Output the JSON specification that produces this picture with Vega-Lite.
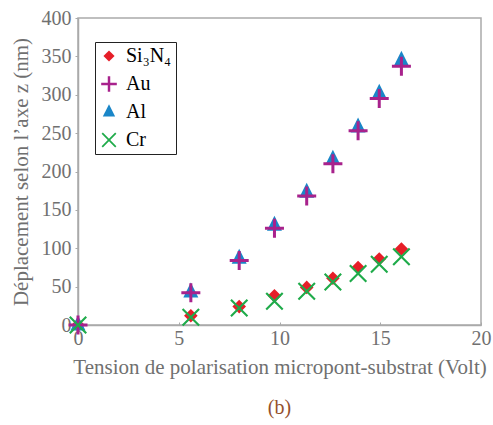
{
  "$schema": "https://vega.github.io/schema/vega-lite/v6.json",
  "width": 403,
  "height": 307,
  "autosize": "none",
  "padding": {"left": 78, "top": 18, "right": 12, "bottom": 100},
  "background": "white",
  "config": {
    "font": "Liberation Serif",
    "view": {"stroke": "#aaaaaa", "strokeWidth": 1.5}
  },
  "title": {
    "text": "(b)",
    "orient": "bottom",
    "anchor": "middle",
    "color": "#94502c",
    "font": "Liberation Serif",
    "fontSize": 20,
    "fontWeight": "normal",
    "offset": 21
  },
  "data": {
    "values": [
      {"mat": "Si₃N₄", "v": 0, "d": 0},
      {"mat": "Si₃N₄", "v": 5.6, "d": 12},
      {"mat": "Si₃N₄", "v": 8.0, "d": 24},
      {"mat": "Si₃N₄", "v": 9.75, "d": 38},
      {"mat": "Si₃N₄", "v": 11.35, "d": 49},
      {"mat": "Si₃N₄", "v": 12.65, "d": 61},
      {"mat": "Si₃N₄", "v": 13.9, "d": 75},
      {"mat": "Si₃N₄", "v": 14.95, "d": 86},
      {"mat": "Si₃N₄", "v": 16.05, "d": 99},
      {"mat": "Al", "v": 0, "d": 0},
      {"mat": "Al", "v": 5.6, "d": 43},
      {"mat": "Al", "v": 8.0, "d": 87},
      {"mat": "Al", "v": 9.75, "d": 130},
      {"mat": "Al", "v": 11.35, "d": 173},
      {"mat": "Al", "v": 12.65, "d": 216},
      {"mat": "Al", "v": 13.9, "d": 258},
      {"mat": "Al", "v": 14.95, "d": 302},
      {"mat": "Al", "v": 16.05, "d": 345},
      {"mat": "Au", "v": 0, "d": 0},
      {"mat": "Au", "v": 5.6, "d": 42},
      {"mat": "Au", "v": 8.0, "d": 84},
      {"mat": "Au", "v": 9.75, "d": 126},
      {"mat": "Au", "v": 11.35, "d": 168},
      {"mat": "Au", "v": 12.65, "d": 210},
      {"mat": "Au", "v": 13.9, "d": 253},
      {"mat": "Au", "v": 14.95, "d": 295},
      {"mat": "Au", "v": 16.05, "d": 337},
      {"mat": "Cr", "v": 0, "d": 0},
      {"mat": "Cr", "v": 5.6, "d": 10},
      {"mat": "Cr", "v": 8.0, "d": 22},
      {"mat": "Cr", "v": 9.75, "d": 31},
      {"mat": "Cr", "v": 11.35, "d": 44},
      {"mat": "Cr", "v": 12.65, "d": 56},
      {"mat": "Cr", "v": 13.9, "d": 67},
      {"mat": "Cr", "v": 14.95, "d": 79},
      {"mat": "Cr", "v": 16.05, "d": 89}
    ]
  },
  "mark": {"type": "point", "filled": true, "opacity": 1, "size": 400, "strokeWidth": 0},
  "encoding": {
    "x": {
      "field": "v",
      "type": "quantitative",
      "scale": {"domain": [0, 20], "nice": false, "zero": false},
      "axis": {
        "title": "Tension de polarisation micropont-substrat (Volt)",
        "values": [0, 5, 10, 15, 20],
        "grid": false,
        "labelFlush": false,
        "domainColor": "#aaaaaa",
        "domainWidth": 1.5,
        "tickColor": "#aaaaaa",
        "tickSize": -3,
        "labelFont": "Liberation Serif",
        "labelFontSize": 20,
        "labelColor": "#707070",
        "labelPadding": 6,
        "titleFont": "Liberation Serif",
        "titleFontSize": 21,
        "titleFontWeight": "normal",
        "titleColor": "#707070",
        "titlePadding": 8,
        "encode": {
          "labels": {
            "update": {
              "dy": {"signal": "datum.value === 0 ? 7 : 0"}
            }
          }
        }
      }
    },
    "y": {
      "field": "d",
      "type": "quantitative",
      "scale": {"domain": [0, 400], "nice": false},
      "axis": {
        "title": "Déplacement selon l’axe z (nm)",
        "values": [0, 50, 100, 150, 200, 250, 300, 350, 400],
        "grid": false,
        "labelFlush": false,
        "domainColor": "#aaaaaa",
        "domainWidth": 1.5,
        "tickColor": "#aaaaaa",
        "tickSize": 3,
        "labelFont": "Liberation Serif",
        "labelFontSize": 20,
        "labelColor": "#707070",
        "labelPadding": 4,
        "titleFont": "Liberation Serif",
        "titleFontSize": 21,
        "titleFontWeight": "normal",
        "titleColor": "#707070",
        "titlePadding": 10
      }
    },
    "color": {
      "field": "mat",
      "type": "nominal",
      "scale": {
        "domain": ["Si₃N₄", "Au", "Al", "Cr"],
        "range": ["#e61e28", "#a8228c", "#1a86c8", "#1fab4a"]
      },
      "legend": {
        "title": null,
        "orient": "none",
        "legendX": 17,
        "legendY": 24,
        "padding": 4,
        "strokeColor": "#222222",
        "fillColor": "white",
        "symbolSize": 270,
        "symbolStrokeWidth": 0,
        "labelFont": "Liberation Serif",
        "labelFontSize": 20,
        "labelOffset": 7,
        "rowPadding": 8,
        "encode": {
          "labels": {
            "update": {
              "fill": {"signal": "datum.value === 'Au' ? '#a8228c' : datum.value === 'Al' ? '#1a86c8' : datum.value === 'Cr' ? '#1fab4a' : '#e61e28'"}
            }
          }
        }
      }
    },
    "shape": {
      "field": "mat",
      "type": "nominal",
      "scale": {
        "domain": ["Si₃N₄", "Au", "Al", "Cr"],
        "range": [
          "M0,-0.68L0.68,0L0,0.68L-0.68,0Z",
          "M-0.95,-0.15H-0.15V-0.95H0.15V-0.15H0.95V0.15H0.15V0.95H-0.15V0.15H-0.95Z",
          "M0,-0.95L0.75,0.55L-0.75,0.55Z",
          "M-0.9,-0.75L-0.75,-0.9L0,-0.15L0.75,-0.9L0.9,-0.75L0.15,0L0.9,0.75L0.75,0.9L0,0.15L-0.75,0.9L-0.9,0.75L-0.15,0Z"
        ]
      }
    }
  }
}
